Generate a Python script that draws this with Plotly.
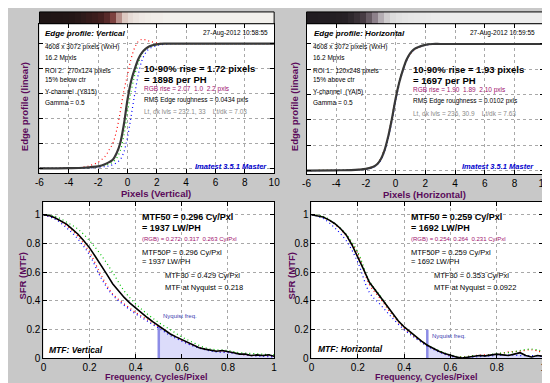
import plotly.graph_objects as go

W, H = 550, 383

# ---------------- data ----------------
edge_x = [-6, -4, -3, -2.5, -2, -1.5, -1.25, -1, -0.75, -0.5, -0.25, 0, 0.25, 0.5,
          0.75, 1, 1.25, 1.5, 2, 2.5, 3, 4, 6, 8, 10]
# Vertical edge profile (Y channel and R, G, B)
v_edge_y = [0, 0.002, 0.005, 0.01, 0.016, 0.035, 0.05, 0.07, 0.12, 0.2, 0.35, 0.55, 0.7,
            0.8, 0.88, 0.93, 0.96, 0.98, 0.995, 1.0, 1.0, 1.0, 1.0, 1.0, 1.0]
v_edge_r = [0, 0.003, 0.01, 0.025, 0.05, 0.1, 0.15, 0.2, 0.3, 0.45, 0.62, 0.75, 0.88,
            0.97, 1.02, 1.035, 1.03, 1.02, 1.005, 1.0, 1.0, 1.0, 1.0, 1.0, 1.0]
v_edge_g = [0, 0.001, 0.003, 0.006, 0.012, 0.025, 0.035, 0.05, 0.08, 0.14, 0.26, 0.45, 0.62,
            0.75, 0.85, 0.92, 0.955, 0.975, 0.99, 1.0, 1.0, 1.0, 1.0, 1.0, 1.0]
v_edge_b = [0, 0, 0.002, 0.004, 0.008, 0.015, 0.02, 0.03, 0.045, 0.07, 0.13, 0.25, 0.42,
            0.6, 0.76, 0.87, 0.93, 0.96, 0.985, 0.995, 1.0, 1.0, 1.0, 1.0, 1.0]
# Horizontal edge profile
h_edge_y = [0, 0.002, 0.004, 0.007, 0.013, 0.03, 0.05, 0.09, 0.16, 0.27, 0.41, 0.57, 0.7,
            0.8, 0.88, 0.93, 0.96, 0.975, 0.993, 1.0, 1.0, 1.0, 1.0, 1.0, 1.0]
h_edge_r = [0, 0.002, 0.004, 0.008, 0.015, 0.033, 0.055, 0.095, 0.17, 0.28, 0.42, 0.575, 0.7,
            0.8, 0.875, 0.925, 0.955, 0.972, 0.99, 1.0, 1.0, 1.0, 1.0, 1.0, 1.0]
h_edge_g = [0, 0.002, 0.004, 0.007, 0.014, 0.031, 0.052, 0.092, 0.165, 0.275, 0.415, 0.572, 0.7,
            0.8, 0.878, 0.928, 0.958, 0.974, 0.992, 1.0, 1.0, 1.0, 1.0, 1.0, 1.0]
h_edge_b = [0, 0.001, 0.003, 0.006, 0.011, 0.026, 0.045, 0.082, 0.15, 0.255, 0.39, 0.55, 0.685,
            0.79, 0.87, 0.925, 0.955, 0.972, 0.99, 0.998, 1.0, 1.0, 1.0, 1.0, 1.0]

# MTF curves
mtf_f = [0, 0.025, 0.05, 0.075, 0.1, 0.125, 0.15, 0.175, 0.2, 0.225, 0.25, 0.275, 0.3, 0.325,
         0.35, 0.375, 0.4, 0.425, 0.45, 0.475, 0.5, 0.525, 0.55, 0.575, 0.6, 0.625, 0.65,
         0.675, 0.7, 0.725, 0.75, 0.775, 0.8, 0.825, 0.85, 0.875, 0.9, 0.925, 0.95, 0.975, 1.0]
mtf_f5 = [0, 0.05, 0.1, 0.15, 0.2, 0.25, 0.3, 0.35, 0.4, 0.45, 0.5, 0.55, 0.6, 0.65, 0.7,
          0.75, 0.8, 0.85, 0.9, 0.95, 1.0]
v_mtf_y = [1.0, 0.995, 0.98, 0.96, 0.935, 0.9, 0.865, 0.82, 0.77, 0.71, 0.65, 0.585, 0.52,
           0.47, 0.425, 0.385, 0.35, 0.315, 0.285, 0.255, 0.225, 0.2, 0.17, 0.15, 0.13, 0.11,
           0.09, 0.075, 0.065, 0.055, 0.05, 0.055, 0.05, 0.04, 0.03, 0.03, 0.02, 0.025, 0.02,
           0.025, 0.015]
v_mtf_r = [1.0, 0.975, 0.925, 0.85, 0.74, 0.58, 0.45, 0.38, 0.32, 0.27, 0.22, 0.17, 0.125,
           0.09, 0.065, 0.05, 0.045, 0.03, 0.02, 0.02, 0.015]
v_mtf_g = [1.0, 0.99, 0.95, 0.9, 0.82, 0.72, 0.6, 0.47, 0.38, 0.31, 0.25, 0.2, 0.15, 0.11,
           0.075, 0.06, 0.055, 0.04, 0.035, 0.03, 0.025]
v_mtf_b = [1.0, 0.97, 0.91, 0.83, 0.72, 0.56, 0.44, 0.37, 0.31, 0.26, 0.21, 0.16, 0.12, 0.085,
           0.06, 0.045, 0.04, 0.03, 0.02, 0.015, 0.01]
h_mtf_y = [1.0, 0.995, 0.985, 0.965, 0.94, 0.905, 0.86, 0.79, 0.71, 0.62, 0.53, 0.475, 0.42,
           0.365, 0.31, 0.26, 0.22, 0.185, 0.15, 0.12, 0.092, 0.07, 0.05, 0.035, 0.02, 0.01,
           0.003, 0.008, 0.015, 0.02, 0.018, 0.025, 0.03, 0.025, 0.02, 0.03, 0.04, 0.02, 0.01,
           0.02, 0.015]
h_mtf_r = [1.0, 0.985, 0.935, 0.855, 0.73, 0.515, 0.41, 0.3, 0.21, 0.145, 0.09, 0.05, 0.02,
           0.01, 0.02, 0.025, 0.03, 0.045, 0.05, 0.06, 0.04]
h_mtf_g = [1.0, 0.99, 0.94, 0.865, 0.74, 0.54, 0.43, 0.31, 0.22, 0.15, 0.095, 0.055, 0.025,
           0.01, 0.02, 0.02, 0.035, 0.04, 0.055, 0.065, 0.05]
h_mtf_b = [1.0, 0.975, 0.91, 0.82, 0.67, 0.46, 0.37, 0.28, 0.2, 0.14, 0.085, 0.045, 0.015,
           0.005, 0.01, 0.015, 0.02, 0.025, 0.02, 0.02, 0.015]

nyquist = 0.5
nyq_line_top = [0.225, 0.2]

# edge image strips (brightness across the ROI)
strip_v = [0.02, 0.02, 0.03, 0.03, 0.04, 0.05, 0.08, 0.12, 0.16, 0.2, 0.26, 0.35, 0.5, 0.7,
           0.85, 0.92, 0.95, 0.97, 0.98, 0.99, 0.99, 1.0, 1.0, 1.0, 1.0, 1.0, 1.0, 1.0, 1.0,
           1.0, 1.0, 1.0, 1.0, 1.0, 1.0, 1.0, 1.0, 1.0, 1.0, 1.0]
strip_h = [0.02, 0.02, 0.03, 0.03, 0.04, 0.05, 0.06, 0.12, 0.2, 0.3, 0.45, 0.6, 0.75, 0.85,
           0.9, 0.93, 0.95, 0.96, 0.97, 0.98, 0.99, 1.0, 1.0, 1.0, 1.0, 1.0, 1.0, 1.0, 1.0,
           1.0, 1.0, 1.0, 1.0, 1.0, 1.0, 1.0, 1.0, 1.0, 1.0, 1.0]

edge_ticks = [-6, -4, -2, 0, 2, 4, 6, 8, 10]
unit_ticks = [0, 0.2, 0.4, 0.6, 0.8, 1]
unit_labels = ["0", "0.2", "0.4", "0.6", "0.8", "1"]

# ---------------- styling ----------------
FONT = "Liberation Sans"
PURPLE = "#5a0a5a"
MAG = "#a0106e"
BG = "#c8c8c8"


def px(x):
    return x / W


def py(y):
    return 1 - y / H


fig = go.Figure()

# Edge profile traces
for ax, ys in (("", (v_edge_r, v_edge_g, v_edge_b, v_edge_y)),
               ("2", (h_edge_r, h_edge_g, h_edge_b, h_edge_y))):
    for vals, col in zip(ys[:3], ("#ff0000", "#00c000", "#0000ff")):
        fig.add_trace(go.Scatter(x=edge_x, y=vals, mode="lines", xaxis="x" + ax, yaxis="y" + ax,
                                 line=dict(color=col, width=1.2, dash="1px,3px"),
                                 line_shape="spline", hoverinfo="skip"))
    fig.add_trace(go.Scatter(x=edge_x, y=ys[3], mode="lines", xaxis="x" + ax, yaxis="y" + ax,
                             line=dict(color="#383838", width=2.2), line_shape="spline",
                             hoverinfo="skip"))

# MTF traces
for i, (ax, ys) in enumerate((("3", (v_mtf_r, v_mtf_g, v_mtf_b, v_mtf_y)),
                              ("4", (h_mtf_r, h_mtf_g, h_mtf_b, h_mtf_y)))):
    k = mtf_f.index(nyquist)
    fig.add_trace(go.Scatter(x=mtf_f[k:], y=ys[3][k:], mode="lines", xaxis="x" + ax,
                             yaxis="y" + ax, line=dict(width=0), fill="tozeroy",
                             fillcolor="#dcdcfa", hoverinfo="skip"))
    fig.add_trace(go.Scatter(x=[nyquist, nyquist], y=[0, nyq_line_top[i]], mode="lines",
                             xaxis="x" + ax, yaxis="y" + ax,
                             line=dict(color="#8c8ce6", width=2.5), hoverinfo="skip"))
    for vals, col in zip(ys[:3], ("#ff0000", "#00c000", "#0000ff")):
        fig.add_trace(go.Scatter(x=mtf_f5, y=vals, mode="lines", xaxis="x" + ax, yaxis="y" + ax,
                                 line=dict(color=col, width=1.2, dash="1px,3px"),
                                 line_shape="spline", hoverinfo="skip"))
    fig.add_trace(go.Scatter(x=mtf_f, y=ys[3], mode="lines", xaxis="x" + ax, yaxis="y" + ax,
                             line=dict(color="black", width=1.6), hoverinfo="skip"))

# strips
fig.add_trace(go.Heatmap(z=[strip_v], xaxis="x5", yaxis="y5", zmin=0, zmax=1, showscale=False,
                         colorscale=[[0, "#1c1414"], [0.3, "#4a2222"], [0.55, "#8a4a48"],
                                     [0.8, "#d4bcb4"], [1, "#f2f0ec"]], hoverinfo="skip"))
fig.add_trace(go.Heatmap(z=[strip_h], xaxis="x6", yaxis="y6", zmin=0, zmax=1, showscale=False,
                         colorscale=[[0, "#1e1a1e"], [0.35, "#4e424a"], [0.65, "#9a8e98"],
                                     [0.9, "#dcdcdc"], [1, "#ececec"]], hoverinfo="skip"))


def axis(dom, rng, tickvals, anchor, ticktext=None, labels=True):
    d = dict(domain=dom, range=rng, tickvals=tickvals, anchor=anchor, showline=True,
             linecolor="black", linewidth=1, mirror="ticks", ticks="inside", ticklen=4,
             tickcolor="black", showgrid=True, gridcolor="#a8a8a8", griddash="dot",
             gridwidth=1, zeroline=False, showticklabels=labels,
             tickfont=dict(family=FONT, size=10, color="black"))
    if ticktext is not None:
        d["ticktext"] = ticktext
    return d


edge_tt = [str(t) for t in edge_ticks]
fig.update_layout(
    width=W, height=H, margin=dict(l=0, r=0, t=0, b=0), paper_bgcolor=BG, plot_bgcolor="white",
    showlegend=False, font=dict(family=FONT),
    xaxis=axis([px(28), px(267)], [-6, 10], edge_ticks, "y", edge_tt),
    yaxis=axis([py(168), py(16)], [-0.04, 1.16], unit_ticks, "x", labels=False),
    xaxis2=axis([px(300), px(542)], [-6, 10], edge_ticks, "y2", edge_tt),
    yaxis2=axis([py(169), py(16)], [-0.03, 1.16], unit_ticks, "x2", labels=False),
    xaxis3=axis([px(32), px(267)], [0, 1], unit_ticks, "y3", unit_labels),
    yaxis3=axis([py(356), py(197)], [0, 1.09], unit_ticks, "x3", unit_labels),
    xaxis4=axis([px(305), px(541)], [0, 1], unit_ticks, "y4", unit_labels),
    yaxis4=axis([py(356), py(197)], [0, 1.09], unit_ticks, "x4", unit_labels),
    xaxis5=dict(domain=[px(28), px(267)], range=[-0.5, 39.5], visible=False, anchor="y5"),
    yaxis5=dict(domain=[py(16), py(4)], visible=False, anchor="x5"),
    xaxis6=dict(domain=[px(300), px(542)], range=[-0.5, 39.5], visible=False, anchor="y6"),
    yaxis6=dict(domain=[py(16), py(4)], visible=False, anchor="x6"),
)

fig.update_layout(shapes=[
    dict(type="rect", xref="paper", yref="paper", x0=px(28), x1=px(267), y0=py(16), y1=py(4),
         line=dict(color="black", width=1)),
    dict(type="rect", xref="paper", yref="paper", x0=px(300), x1=px(542), y0=py(16), y1=py(4),
         line=dict(color="black", width=1)),
])

ann = []


def txt(x, y, s, size=7, color="black", bold=False, italic=False, anchor="left", angle=0):
    if italic:
        s = "<i>" + s + "</i>"
    if bold:
        s = "<b>" + s + "</b>"
    ann.append(dict(x=px(x), y=py(y), xref="paper", yref="paper", text=s, showarrow=False,
                    xanchor=anchor, yanchor="middle", textangle=angle,
                    font=dict(family=FONT, size=size, color=color)))


# top-left panel
txt(32, 26, "Edge profile: Vertical", 8, bold=True, italic=True)
txt(263, 25, "27-Aug-2012 10:58:55", 6.5, anchor="right")
txt(32, 40, "4608 x 3072 pixels (WxH)", 6.5)
txt(32, 51, "16.2 Mpxls", 6.5)
txt(32, 64, "ROI 2:  270x124 pixels", 6.5)
txt(32, 73, "15% below ctr", 6.5)
txt(32, 85, "Y-channel  (Y815)", 6.5)
txt(32, 96, "Gamma = 0.5", 6.5)
txt(132, 61, "10-90% rise = 1.72 pixels", 9.5, bold=True)
txt(132, 73, "= 1898 per PH", 9.5, bold=True)
txt(132, 82, "RGB rise = 2.07  1.0  2.2 pxls", 6.5, MAG)
txt(132, 93, "RMS Edge roughness = 0.0434 pxls", 6.5)
txt(132, 105, "Lt, dk lvls = 232.1, 33    Lt/dk = 7.03", 6.5, "#8a8a8a")
txt(262, 161, "Imatest 3.5.1 Master", 7.5, "#0000cc", bold=True, italic=True, anchor="right")

# top-right panel
txt(306, 26, "Edge profile: Horizontal", 8, bold=True, italic=True)
txt(535, 25, "27-Aug-2012 10:59:55", 6.5, anchor="right")
txt(305, 40, "4608 x 3072 pixels (WxH)", 6.5)
txt(305, 51, "16.2 Mpxls", 6.5)
txt(305, 64, "ROI 1:  120x248 pixels", 6.5)
txt(305, 73, "15% above ctr", 6.5)
txt(305, 85, "Y-channel  (YAI5)", 6.5)
txt(305, 96, "Gamma = 0.5", 6.5)
txt(406, 62, "10-90% rise = 1.93 pixels", 9.5, bold=True)
txt(406, 74, "= 1697 per PH", 9.5, bold=True)
txt(406, 83, "RGB rise = 1.90  1.89  2.10 pxls", 6.5, MAG)
txt(406, 94, "RMS Edge roughness = 0.0102 pxls", 6.5)
txt(406, 107, "Lt, dk lvls = 236, 30.9    Lt/dk = 7.63", 6.5, "#8a8a8a")
txt(534, 161, "Imatest 3.5.1 Master", 7.5, "#0000cc", bold=True, italic=True, anchor="right")

# bottom-left panel
txt(130, 212, "MTF50 = 0.296 Cy/Pxl", 9, bold=True)
txt(130, 223, "= 1937 LW/PH", 9, bold=True)
txt(130, 235, "(RGB) = 0.272  0.317  0.263 Cy/Pxl", 6, MAG)
txt(130, 248, "MTF50P = 0.296 Cy/Pxl", 7.5)
txt(130, 258, "= 1937 LW/PH", 7.5)
txt(154, 272, "MTF30 = 0.429 Cy/Pxl", 7.5)
txt(154, 284, "MTF at Nyquist = 0.218", 7.5)
txt(152, 313, "Nyquist freq.", 6, "#4040b0")
txt(36, 347, "MTF: Vertical", 8.5, bold=True, italic=True)

# bottom-right panel
txt(404, 212, "MTF50 = 0.259 Cy/Pxl", 9, bold=True)
txt(404, 223, "= 1692 LW/PH", 9, bold=True)
txt(404, 235, "(RGB) = 0.254  0.264  0.231 Cy/Pxl", 6, MAG)
txt(404, 248, "MTF50P = 0.259 Cy/Pxl", 7.5)
txt(404, 258, "= 1692 LW/PH", 7.5)
txt(428, 272, "MTF30 = 0.353 Cy/Pxl", 7.5)
txt(428, 284, "MTF at Nyquist = 0.0922", 7.5)
txt(426, 333, "Nyquist freq.", 6, "#4040b0")
txt(310, 346, "MTF: Horizontal", 8.5, bold=True, italic=True)

# axis titles
txt(13, 100, "Edge profile (linear)", 9.5, PURPLE, bold=True, anchor="center", angle=-90)
txt(288, 100, "Edge profile (linear)", 9.5, PURPLE, bold=True, anchor="center", angle=-90)
txt(147, 188, "Pixels (Vertical)", 9.5, PURPLE, bold=True, anchor="center")
txt(420, 189, "Pixels (Horizontal)", 9.5, PURPLE, bold=True, anchor="center")
txt(11, 272, "SFR (MTF)", 9.5, PURPLE, bold=True, anchor="center", angle=-90)
txt(285, 272, "SFR (MTF)", 9.5, PURPLE, bold=True, anchor="center", angle=-90)
txt(147, 375, "Frequency, Cycles/Pixel", 9, PURPLE, bold=True, anchor="center")
txt(422, 375, "Frequency, Cycles/Pixel", 9, PURPLE, bold=True, anchor="center")

fig.update_layout(annotations=ann)
fig.write_html("out.html")
